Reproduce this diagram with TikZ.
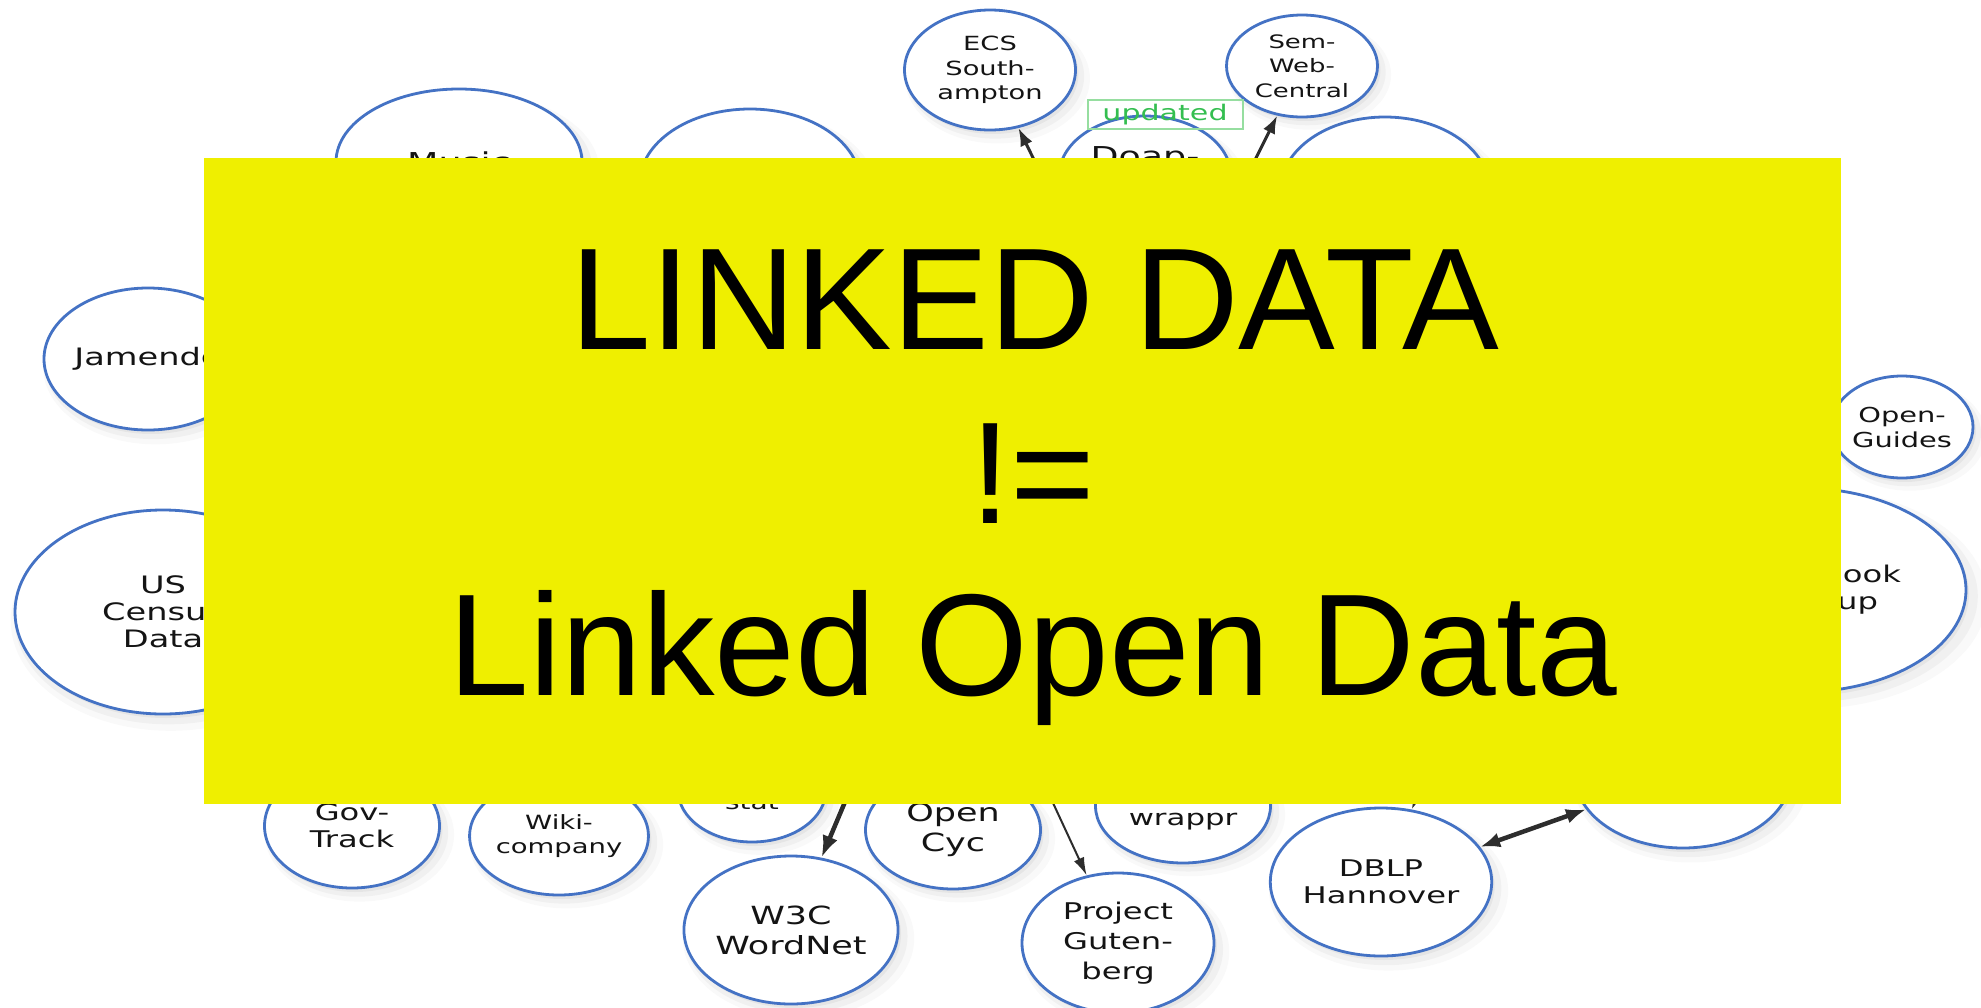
\documentclass[tikz,border=0pt]{standalone}
\usepackage{fontspec}
\setmainfont{Liberation Sans}
\newfontfamily\nodefont{DejaVu Sans}[FakeStretch=1.40]
\usetikzlibrary{arrows.meta,shapes.geometric,shadows}
\definecolor{lodblue}{RGB}{68,114,196}
\definecolor{lodyellow}{RGB}{239,239,0}
\definecolor{lodgreen}{RGB}{52,190,80}
\definecolor{lodgreenbox}{RGB}{150,222,160}
\definecolor{lodarrow}{RGB}{45,45,45}
\providecommand{\lfs}[2]{\nodefont\fontsize{#1}{#2}\selectfont}
\tikzset{
  lnode/.style  ={ellipse, draw=lodblue, line width=2.8pt, fill=white,
                  inner sep=0pt, align=center, text=black!92,
                  drop shadow={shadow xshift=7pt, shadow yshift=-8pt,
                               shadow scale=1.08, opacity=.05},
                  drop shadow={shadow xshift=5pt, shadow yshift=-6pt,
                               shadow scale=1.04, opacity=.07},
                  drop shadow={shadow xshift=3pt, shadow yshift=-4pt, opacity=.10}},
  lsize/.style 2 args={minimum width=#1pt, minimum height=#2pt},
  larrow/.style ={-{Latex[length=18pt,width=13pt]}, line width=3pt, draw=lodarrow},
  lthick/.style ={-{Latex[length=22pt,width=16pt]}, line width=4.5pt, draw=lodarrow},
  lthin/.style  ={-{Latex[length=18pt,width=11pt]}, line width=2pt, draw=lodarrow},
  ldouble/.style={{Latex[length=20pt,width=15pt]}-{Latex[length=20pt,width=15pt]},
                  line width=4.5pt, draw=lodarrow},
  lupd/.style   ={draw=lodgreenbox, line width=2pt, text=lodgreen, inner sep=0pt,
                  minimum width=155pt, minimum height=29pt, font=\lfs{21.5}{24}},
  lbanner/.style={fill=lodyellow, inner sep=0pt, minimum width=1637pt, minimum height=646pt},
  ltitle/.style ={anchor=base, inner sep=0pt, text=black, font=\fontsize{145}{173}\selectfont},
}

\begin{document}
\begin{tikzpicture}[x=1pt, y=-1pt]
  \useasboundingbox (0,0) rectangle (1981,1007);

  % ---- top row ----
  \node[lnode, lsize={246}{146}, font=\lfs{26}{30}] (music) at (459,162) {Music};
  \node[lnode, lsize={221}{150}] (hidA) at (750,184) {};
  \node[lnode, lsize={172}{120}, font=\lfs{26}{30}] (doap) at (1145,176) {Doap-\\\strut};
  \node[lnode, lsize={209}{146}] (hidB) at (1385,190) {};
  \node[lnode, lsize={171}{120}, font=\lfs{19.5}{24.6}] (ecs) at (990,70) {ECS\\South-\\ampton};
  \node[lnode, lsize={151}{102}, font=\lfs{18.5}{24.5}] (semweb) at (1302,66) {Sem-\\Web-\\Central};

  % ---- left and right ----
  \node[lnode, lsize={200}{142}, font=\lfs{24}{28}] (jamendo) at (148,359) {Jamendo};
  \node[lnode, lsize={296}{204}, font=\lfs{24}{27}] (census) at (163,612) {US\\Census\\Data};
  \node[lnode, lsize={142}{102}, font=\lfs{20.6}{25}] (guides) at (1902,427) {Open-\\Guides};
  \node[lnode, lsize={330}{204}, font=\lfs{23}{27}, align=right, text width=200pt]
    (mashup) at (1801,590) {RDF Book\\Mashup\kern23pt};

  % ---- bottom row ----
  \node[lnode, lsize={175}{124}, font=\lfs{23}{27}] (govtrack) at (352,826) {Gov-\\Track};
  \node[lnode, lsize={175}{118}, font=\lfs{19.6}{23.5}] (wikico) at (559,836) {Wiki-\\company};
  \node[lnode, lsize={148}{104}, font=\lfs{20}{25}] (eurostat) at (752,790) {Euro-\\stat};
  \node[lnode, lsize={175}{118}, font=\lfs{25}{30}] (opencyc) at (953,830) {Open\\Cyc};
  \node[lnode, lsize={175}{114}, font=\lfs{22}{27}] (wrappr) at (1183,806) {flickr\\wrappr};
  \node[lnode, lsize={216}{146}] (hidC) at (1683,775) {};
  \node[lnode, lsize={214}{148}, font=\lfs{25}{30}] (wordnet) at (791,930) {W3C\\WordNet};
  \node[lnode, lsize={192}{140}, font=\lfs{23}{30}] (gutenberg) at (1118,943) {Project\\Guten-\\berg};
  \node[lnode, lsize={216}{148}, font=\lfs{23}{27}] (dblp) at (1381,882) {DBLP\\Hannover};

  % ---- arrows ----
  \coordinate (ecsfrom)  at (1040,172);
  \coordinate (semfrom)  at (1245,180);
  \coordinate (wnfrom)   at (850,790);
  \coordinate (gutfrom)  at (1047,790);
  \coordinate (dblpfrom) at (1431,764);
  \draw[larrow]  (ecsfrom) -- (ecs);
  \draw[larrow]  (semfrom) -- (semweb);
  \draw[lthick]  (wnfrom) -- (wordnet);
  \draw[lthin]   (gutfrom) -- (gutenberg);
  \draw[larrow]  (dblpfrom) -- (dblp);
  \draw[ldouble] (dblp) -- (hidC);

  \node[lupd] (updated) at (1165,114.5) {updated};

  % ---- banner ----
  \node[lbanner] (banner) at (1022.5,481) {};
  \node[ltitle] (tline1) at (1035,349) {LINKED DATA};
  \node[ltitle] (tline2) at (1033,523) {!=};
  \node[ltitle] (tline3) at (1033,695) {Linked Open Data};

\end{tikzpicture}
\end{document}
